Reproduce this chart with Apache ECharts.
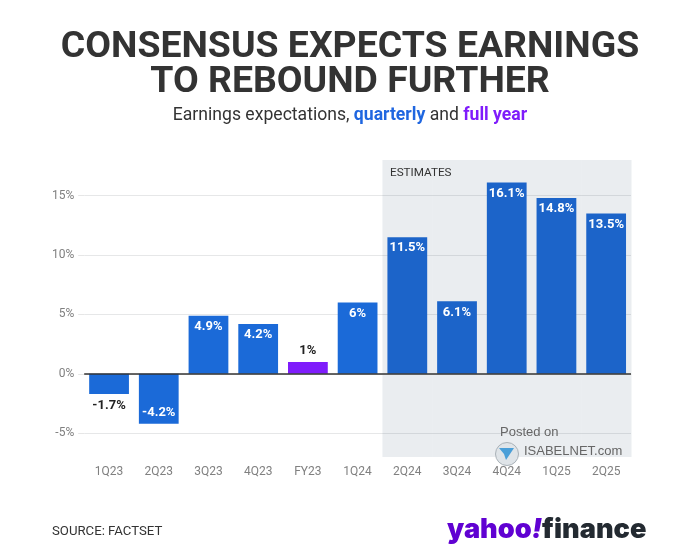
<!DOCTYPE html>
<html>
<head>
<meta charset="utf-8">
<style>
	html, body { margin: 0; padding: 0; background: #fff; }
	#chart { width: 700px; height: 556px; }
</style>
<script src="https://cdn.jsdelivr.net/npm/echarts@6/dist/echarts.min.js"></script>
</head>
<body>
<div id="chart"></div>
<script>
var categories = ['1Q23', '2Q23', '3Q23', '4Q23', 'FY23', '1Q24', '2Q24', '3Q24', '4Q24', '1Q25', '2Q25'];
var growth = [-1.7, -4.2, 4.9, 4.2, 1, 6, 11.5, 6.1, 16.1, 14.8, 13.5];
var fullYear = ['FY23'];
var estimates = ['2Q24', '3Q24', '4Q24', '1Q25', '2Q25'];
var tickValues = [-5, 0, 5, 10, 15];

var BLUE = '#1b6ad8';
var BLUE_EST = '#1c64c9';
var PURPLE = '#7f1cfb';
var GRID = 'rgba(60,70,80,0.13)';

var myChart = echarts.init(document.getElementById('chart'));

var barData = growth.map(function(v, i) {
	var small = Math.abs(v) < 2;
	var pos = v < 0 ? (small ? 'bottom' : 'insideBottom') : (small ? 'top' : 'insideTop');
	var color = estimates.indexOf(categories[i]) >= 0 ? BLUE_EST : BLUE;
	if (fullYear.indexOf(categories[i]) >= 0) {
		color = PURPLE;
	}
	return {
		value: v,
		itemStyle: { color: color },
		label: { position: pos, color: small ? '#222' : '#fff', distance: small ? 5 : 4.5 }
	};
});

var option = {
	animation: false,
	backgroundColor: '#fff',
	grid: { left: 84.2, right: 69, top: 160, bottom: 99 },
	xAxis: {
		type: 'category',
		data: categories,
		axisLine: { lineStyle: { color: '#e6e6e6' } },
		axisTick: { alignWithLabel: true, length: 6, lineStyle: { color: '#e6e6e6' } },
		axisLabel: { color: '#808080', fontFamily: 'Roboto', fontSize: 12, margin: 9 }
	},
	yAxis: {
		type: 'value',
		min: -7,
		max: 18,
		axisLine: { show: false },
		axisTick: { show: true, length: 6, customValues: tickValues, lineStyle: { color: '#e6e6e6' } },
		axisLabel: {
			customValues: tickValues,
			color: '#808080',
			fontFamily: 'Roboto',
			fontSize: 12,
			margin: 10,
			formatter: '{value}%'
		},
		splitLine: { show: true, lineStyle: { color: GRID } }
	},
	series: [
		{
			// shaded band behind the estimate quarters
			type: 'custom',
			silent: true,
			z: -1,
			data: estimates.map(function(c) { return [c]; }),
			encode: { x: 0 },
			renderItem: function(params, api) {
				var x = api.coord([api.value(0), 0])[0];
				var w = api.size([1, 0])[0];
				var top = api.coord([api.value(0), 18])[1];
				var bottom = api.coord([api.value(0), -7])[1];
				return {
					type: 'rect',
					shape: { x: x - w / 2, y: top, width: w + 0.5, height: bottom - top },
					style: { fill: '#eaedf0' }
				};
			}
		},
		{
			type: 'bar',
			barWidth: '80%',
			z: 3,
			data: barData,
			label: {
				show: true,
				fontFamily: 'Roboto',
				fontWeight: 'bold',
				fontSize: 13,
				formatter: function(p) { return p.value + '%'; }
			},
			markLine: {
				silent: true,
				symbol: 'none',
				label: { show: false },
				lineStyle: { color: '#333', width: 1.5, type: 'solid' },
				data: [{ yAxis: 0 }]
			}
		}
	],
	graphic: [
		{
			type: 'text', left: 'center', top: 29, z: 10,
			style: { text: 'CONSENSUS EXPECTS EARNINGS', fontFamily: 'Roboto', fontWeight: 'bold', fontSize: 37.4, fill: '#333' }
		},
		{
			type: 'text', left: 'center', top: 64, z: 10,
			style: { text: 'TO REBOUND FURTHER', fontFamily: 'Roboto', fontWeight: 'bold', fontSize: 37.4, fill: '#333' }
		},
		{
			type: 'text', left: 'center', top: 107, z: 10,
			style: {
				text: '{n|Earnings expectations, }{q|quarterly}{n| and }{f|full year}',
				rich: {
					n: { fontFamily: 'Roboto', fontSize: 17.6, fill: '#333', color: '#333' },
					q: { fontFamily: 'Roboto', fontWeight: 'bold', fontSize: 17.6, fill: '#1f66e0', color: '#1f66e0' },
					f: { fontFamily: 'Roboto', fontWeight: 'bold', fontSize: 17.6, fill: '#7f1cfb', color: '#7f1cfb' }
				}
			}
		},
		{
			type: 'text', left: 390, top: 167, z: 10,
			style: { text: 'ESTIMATES', fontFamily: 'Roboto', fontSize: 11.7, fill: '#333' }
		},
		{
			type: 'text', left: 52, top: 525, z: 10,
			style: { text: 'SOURCE: FACTSET', fontFamily: 'Roboto', fontSize: 13.2, fill: '#333' }
		},
		{
			type: 'text', left: 447, top: 516, z: 10,
			style: {
				text: '{y|yahoo}{e|!}{f|finance}',
				rich: {
					y: { fontFamily: 'Inter', fontWeight: 900, fontSize: 27.2, fill: '#6001d2', color: '#6001d2' },
					e: { fontFamily: 'Inter', fontWeight: 900, fontStyle: 'italic', fontSize: 27.2, fill: '#6001d2', color: '#6001d2' },
					f: { fontFamily: 'Inter', fontWeight: 900, fontSize: 27.2, fill: '#232a31', color: '#232a31' }
				}
			}
		},
		// isabelnet watermark
		{
			type: 'text', left: 500, top: 426, z: 10,
			style: { text: 'Posted on', fontFamily: 'Liberation Sans', fontSize: 13, fill: '#666' }
		},
		{
			type: 'text', left: 524, top: 445, z: 10,
			style: { text: 'ISABELNET.com', fontFamily: 'Liberation Sans', fontSize: 13, fill: '#666' }
		},
		{
			type: 'circle', left: 495, top: 442, z: 10,
			shape: { r: 11.5 },
			style: { fill: '#dfe4e8', stroke: '#aab2b8', lineWidth: 1 }
		},
		{
			type: 'polygon', left: 499, top: 448, z: 11,
			shape: { points: [[0, 0], [15, 0], [7, 12], [5, 6]] },
			style: { fill: '#4a9fd8' }
		}
	]
};
myChart.setOption(option);
</script>
</body>
</html>
